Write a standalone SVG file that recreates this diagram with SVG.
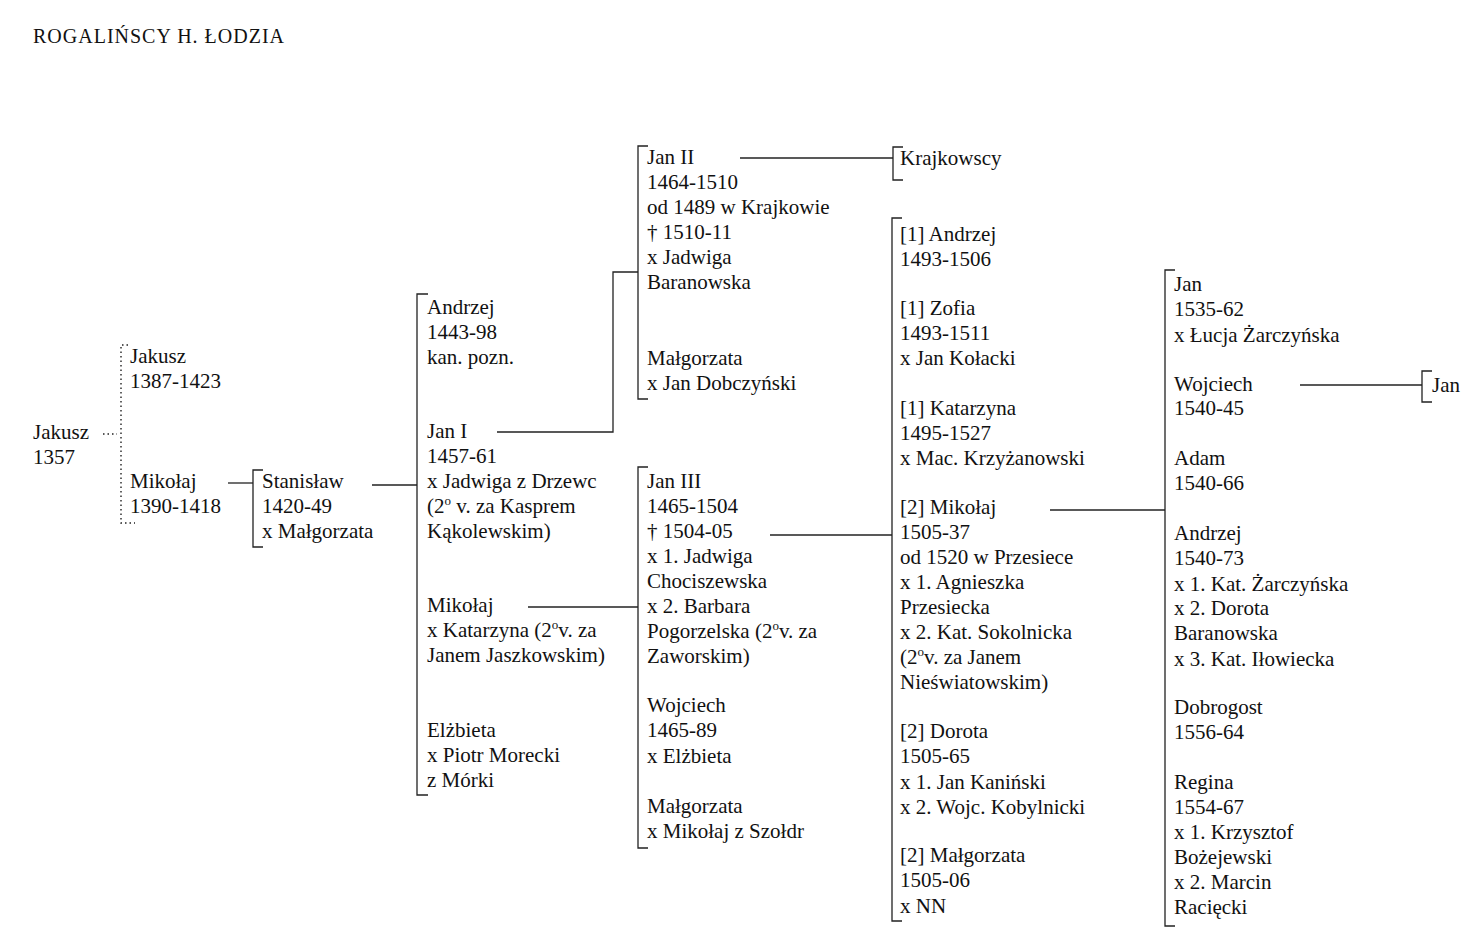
<svg xmlns="http://www.w3.org/2000/svg" width="1484" height="946" viewBox="0 0 1484 946">
<style>
text{font-family:"Liberation Serif","Times New Roman",serif;font-size:21px;fill:#111}
.title{font-size:20px;letter-spacing:1px}
.br{fill:none;stroke:#222;stroke-width:1.3}
.ln{fill:none;stroke:#222;stroke-width:1.3}
.dot{fill:none;stroke:#222;stroke-width:1.4;stroke-dasharray:1.5 3}
.sup{font-size:13px}
</style>
<rect width="1484" height="946" fill="#fff"/>
<text class="title" x="33" y="43">ROGALIŃSCY  H.  ŁODZIA</text>

<g id="connectors">
<path class="dot" d="M103 434H117"/>
<path class="ln" d="M228 483H253"/>
<path class="ln" d="M372 485H417"/>
<path class="ln" d="M497 432H613V272H638"/>
<path class="ln" d="M740 158H893"/>
<path class="ln" d="M528 607H638"/>
<path class="ln" d="M770 535H892"/>
<path class="ln" d="M1050 510H1165"/>
<path class="ln" d="M1300 385H1422"/>
</g>

<g id="n-jakusz-1357">
<text x="33" y="439">Jakusz</text>
<text x="33" y="464">1357</text>
</g>

<g id="n-gen2">
<path class="dot" d="M128 345H121V523H135"/>
<g id="n-jakusz-1387"><text x="130" y="363">Jakusz</text><text x="130" y="388">1387-1423</text></g>
<g id="n-mikolaj-1390"><text x="130" y="488">Mikołaj</text><text x="130" y="513">1390-1418</text></g>
</g>

<g id="n-stanislaw">
<path class="br" d="M263 470H253V547H263"/>
<text x="262" y="488">Stanisław</text>
<text x="262" y="513">1420-49</text>
<text x="262" y="538">x Małgorzata</text>
</g>

<g id="n-gen4">
<path class="br" d="M428 294H417V795H428"/>
<g id="n-andrzej-1443"><text x="427" y="314">Andrzej</text><text x="427" y="339">1443-98</text><text x="427" y="364">kan. pozn.</text></g>
<g id="n-jan-i"><text x="427" y="438">Jan I</text><text x="427" y="463">1457-61</text><text x="427" y="488">x Jadwiga z Drzewc</text><text x="427" y="513">(2<tspan class="sup" dy="-8">o</tspan><tspan dy="8"> v. za Kasprem</tspan></text><text x="427" y="538">Kąkolewskim)</text></g>
<g id="n-mikolaj-gen4"><text x="427" y="612">Mikołaj</text><text x="427" y="637">x Katarzyna (2<tspan class="sup" dy="-8">o</tspan><tspan dy="8">v. za</tspan></text><text x="427" y="662">Janem Jaszkowskim)</text></g>
<g id="n-elzbieta"><text x="427" y="737">Elżbieta</text><text x="427" y="762">x Piotr Morecki</text><text x="427" y="787">z Mórki</text></g>
</g>

<g id="n-gen5a">
<path class="br" d="M648 146H638V399H648"/>
<g id="n-jan-ii"><text x="647" y="164">Jan II</text><text x="647" y="189">1464-1510</text><text x="647" y="214">od 1489 w Krajkowie</text><text x="647" y="239">† 1510-11</text><text x="647" y="264">x Jadwiga</text><text x="647" y="289">Baranowska</text></g>
<g id="n-malgorzata-a"><text x="647" y="365">Małgorzata</text><text x="647" y="390">x Jan Dobczyński</text></g>
</g>

<g id="n-krajkowscy">
<path class="br" d="M903 147H893V180H903"/>
<text x="900" y="165">Krajkowscy</text>
</g>

<g id="n-gen5b">
<path class="br" d="M648 467H638V848H648"/>
<g id="n-jan-iii"><text x="647" y="488">Jan III</text><text x="647" y="513">1465-1504</text><text x="647" y="538">† 1504-05</text><text x="647" y="563">x 1. Jadwiga</text><text x="647" y="588">Chociszewska</text><text x="647" y="613">x 2. Barbara</text><text x="647" y="638">Pogorzelska (2<tspan class="sup" dy="-8">o</tspan><tspan dy="8">v. za</tspan></text><text x="647" y="663">Zaworskim)</text></g>
<g id="n-wojciech-1465"><text x="647" y="712">Wojciech</text><text x="647" y="737">1465-89</text><text x="647" y="763">x Elżbieta</text></g>
<g id="n-malgorzata-b"><text x="647" y="813">Małgorzata</text><text x="647" y="838">x Mikołaj z Szołdr</text></g>
</g>

<g id="n-gen6">
<path class="br" d="M902 218H892V921H902"/>
<g id="n-andrzej-1493"><text x="900" y="241">[1] Andrzej</text><text x="900" y="266">1493-1506</text></g>
<g id="n-zofia"><text x="900" y="315">[1] Zofia</text><text x="900" y="340">1493-1511</text><text x="900" y="365">x Jan Kołacki</text></g>
<g id="n-katarzyna"><text x="900" y="415">[1] Katarzyna</text><text x="900" y="440">1495-1527</text><text x="900" y="465">x Mac. Krzyżanowski</text></g>
<g id="n-mikolaj-1505"><text x="900" y="514">[2] Mikołaj</text><text x="900" y="539">1505-37</text><text x="900" y="564">od 1520 w Przesiece</text><text x="900" y="589">x 1. Agnieszka</text><text x="900" y="614">Przesiecka</text><text x="900" y="639">x 2. Kat. Sokolnicka</text><text x="900" y="664">(2<tspan class="sup" dy="-8">o</tspan><tspan dy="8">v. za Janem</tspan></text><text x="900" y="689">Nieświatowskim)</text></g>
<g id="n-dorota"><text x="900" y="738">[2] Dorota</text><text x="900" y="763">1505-65</text><text x="900" y="789">x 1. Jan Kaniński</text><text x="900" y="814">x 2. Wojc. Kobylnicki</text></g>
<g id="n-malgorzata-c"><text x="900" y="862">[2] Małgorzata</text><text x="900" y="887">1505-06</text><text x="900" y="913">x NN</text></g>
</g>

<g id="n-gen7">
<path class="br" d="M1175 270H1165V926H1175"/>
<g id="n-jan-1535"><text x="1174" y="291">Jan</text><text x="1174" y="316">1535-62</text><text x="1174" y="342">x Łucja Żarczyńska</text></g>
<g id="n-wojciech-1540"><text x="1174" y="391">Wojciech</text><text x="1174" y="415">1540-45</text></g>
<g id="n-adam"><text x="1174" y="465">Adam</text><text x="1174" y="490">1540-66</text></g>
<g id="n-andrzej-1540"><text x="1174" y="540">Andrzej</text><text x="1174" y="565">1540-73</text><text x="1174" y="591">x 1. Kat. Żarczyńska</text><text x="1174" y="615">x 2. Dorota</text><text x="1174" y="640">Baranowska</text><text x="1174" y="666">x 3. Kat. Iłowiecka</text></g>
<g id="n-dobrogost"><text x="1174" y="714">Dobrogost</text><text x="1174" y="739">1556-64</text></g>
<g id="n-regina"><text x="1174" y="789">Regina</text><text x="1174" y="814">1554-67</text><text x="1174" y="839">x 1. Krzysztof</text><text x="1174" y="864">Bożejewski</text><text x="1174" y="889">x 2. Marcin</text><text x="1174" y="914">Racięcki</text></g>
</g>

<g id="n-jan-last">
<path class="br" d="M1432 371H1422V402H1432"/>
<text x="1432" y="392">Jan</text>
</g>
</svg>
